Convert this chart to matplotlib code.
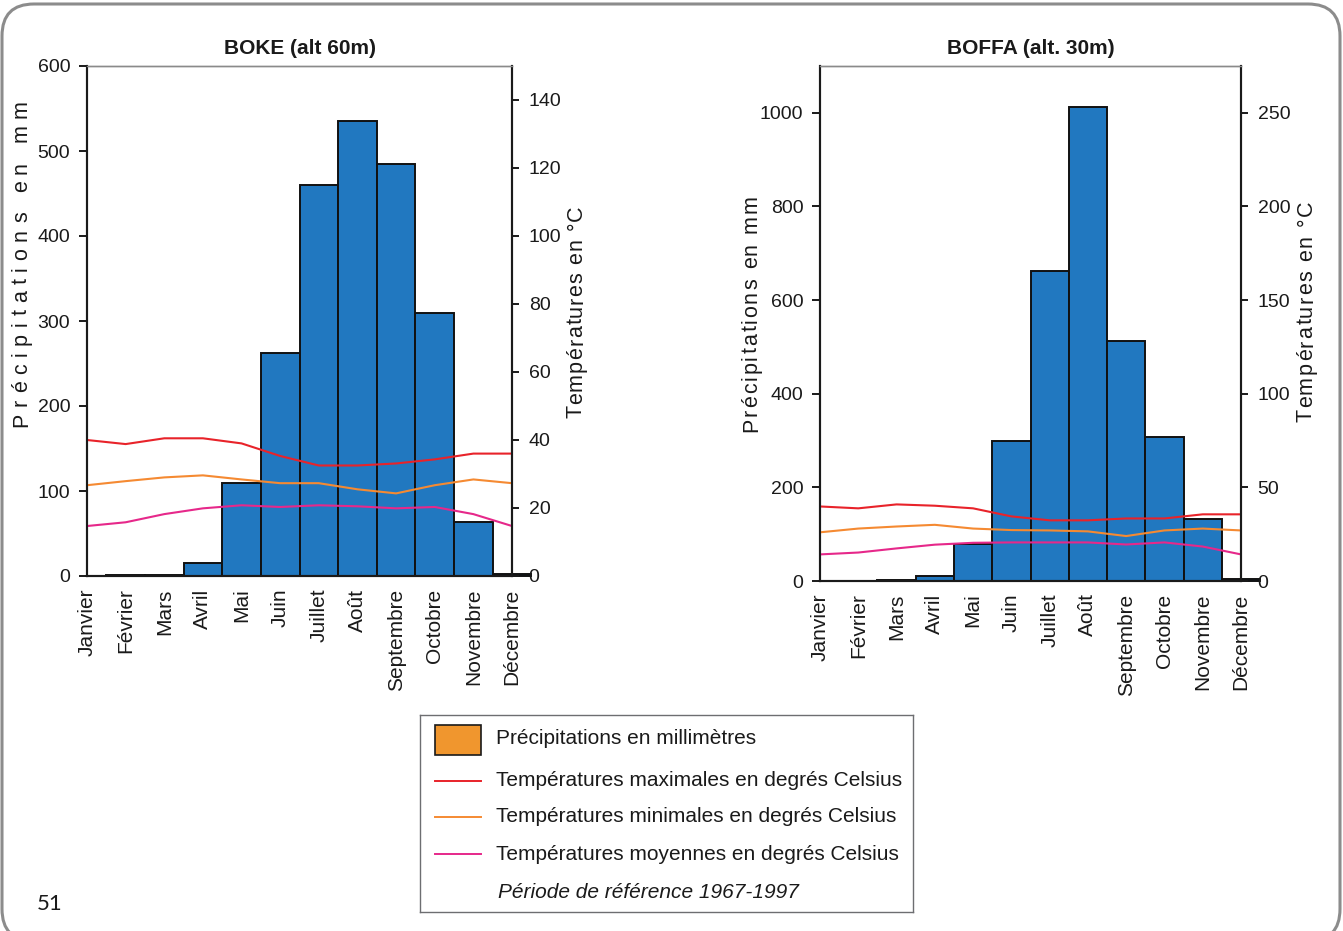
import numpy as np
import matplotlib
matplotlib.use("Agg")
import matplotlib.pyplot as plt
from matplotlib.patches import Rectangle, FancyBboxPatch
from matplotlib.lines import Line2D
from matplotlib.font_manager import FontProperties
from matplotlib.textpath import TextToPath
from matplotlib.transforms import IdentityTransform

plt.rcParams['font.family'] = ['Liberation Sans', 'DejaVu Sans']

W, H, DPI = 1343, 931, 100

months = ['Janvier', 'Février', 'Mars', 'Avril', 'Mai', 'Juin', 'Juillet',
          'Août', 'Septembre', 'Octobre', 'Novembre', 'Décembre']

# BOKE
boke_precip = [0, 1, 1, 15, 110, 262, 460, 535, 485, 310, 63, 2]
boke_tmax = [40, 38.8, 40.5, 40.5, 39, 35.3, 32.5, 32.5, 33.1, 34.3, 36, 36]
boke_tmin = [26.7, 27.9, 29, 29.6, 28.4, 27.3, 27.3, 25.5, 24.3, 26.7, 28.4, 27.3]
boke_tmoy = [14.7, 15.8, 18.2, 19.9, 20.8, 20.3, 20.8, 20.5, 19.9, 20.3, 18.2, 14.7]

# BOFFA
boffa_precip = [0, 0, 2, 10, 78, 300, 662, 1013, 512, 307, 132, 4]
boffa_tmax = [39.8, 38.8, 40.9, 40.2, 38.8, 34.5, 32.4, 32.4, 33.4, 33.4, 35.6, 35.6]
boffa_tmin = [26, 28, 29.1, 30, 28, 27.2, 27, 26.5, 24, 27, 28, 27]
boffa_tmoy = [14.2, 15.2, 17.4, 19.4, 20.4, 20.6, 20.6, 20.6, 19.5, 20.6, 18.4, 14.2]

bar_col = '#2178c0'
c_max = '#e8232a'
c_min = '#f58a32'
c_moy = '#e6288a'
c_leg = '#f0962e'
txt = '#1a1a1a'

fig = plt.figure(figsize=(W / DPI, H / DPI), dpi=DPI)

ttp = TextToPath()


def spaced_vlabel(x, y_bot, y_top, s, size=15.5):
    # vertical text with letter spacing, coordinates in image pixels (top origin)
    fp = FontProperties(family='Liberation Sans', size=size)
    base = ttp.get_text_width_height_descent('xx', fp, ismath=False)[0]
    ws = [(ttp.get_text_width_height_descent('x' + c + 'x', fp, ismath=False)[0] - base) * DPI / 72
          for c in s]
    gap = ((y_bot - y_top) - sum(ws)) / (len(s) - 1)
    pos = H - y_bot
    for c, w in zip(s, ws):
        fig.text(x, pos, c, rotation=90, rotation_mode='anchor', ha='left', va='baseline',
                 transform=IdentityTransform(), fontproperties=fp, color=txt)
        pos += w + gap


def draw_chart(rect, title, precip, tmax, tmin, tmoy, ylim, yticks, tlim, tticks):
    x0, y0, x1, y1 = rect
    ax = fig.add_axes([x0 / W, 1 - y1 / H, (x1 - x0) / W, (y1 - y0) / H])
    x = np.arange(len(months))
    bars = ax.bar(x, precip, width=1, color=bar_col, edgecolor='#111111', linewidth=1.4)
    bars.patches[-1].set_clip_on(False)
    ax.set_xlim(0, len(months) - 1)
    ax.set_ylim(*ylim)
    ax.set_yticks(yticks)
    ax.set_xticks(x)
    ax.set_xticklabels(months, rotation=90, fontsize=15, color=txt)
    ax.tick_params(axis='x', length=0, pad=9)
    ax.tick_params(axis='y', direction='out', length=6, width=1.4, labelsize=14, pad=6,
                   colors=txt)
    ax.set_title(title, fontsize=15, fontweight='bold', pad=9, color=txt)

    ax2 = ax.twinx()
    ax2.plot(x, tmax, color=c_max, lw=1.5)
    ax2.plot(x, tmin, color=c_min, lw=1.5)
    ax2.plot(x, tmoy, color=c_moy, lw=1.5)
    ax2.set_ylim(*tlim)
    ax2.set_yticks(tticks)
    ax2.tick_params(axis='y', direction='out', length=5, width=1.4, labelsize=14, pad=7,
                    colors=txt)
    for a in (ax, ax2):
        a.spines['top'].set_color('#8a8a8a')
        a.spines['top'].set_linewidth(1.0)
        for s in ('left', 'right', 'bottom'):
            a.spines[s].set_color(txt)
            a.spines[s].set_linewidth(1.5)
    return ax, ax2


draw_chart((87, 66, 512, 576), 'BOKE (alt 60m)', boke_precip, boke_tmax, boke_tmin, boke_tmoy,
           (0, 600), range(0, 601, 100), (0, 150), range(0, 141, 20))
draw_chart((820, 66, 1241, 581), 'BOFFA (alt. 30m)', boffa_precip, boffa_tmax, boffa_tmin, boffa_tmoy,
           (0, 1100), range(0, 1001, 200), (0, 275), range(0, 251, 50))

spaced_vlabel(27, 427, 100, 'Précipitations en mm')
spaced_vlabel(582, 418, 205, 'Températures en °C')
spaced_vlabel(757, 432, 195, 'Précipitations en mm')
spaced_vlabel(1312, 422, 200, 'Températures en °C')

# legend box
lx0, ly0, lx1, ly1 = 420, 715, 913, 912
lax = fig.add_axes([lx0 / W, 1 - ly1 / H, (lx1 - lx0) / W, (ly1 - ly0) / H])
lax.set_xlim(0, lx1 - lx0)
lax.set_ylim(ly1 - ly0, 0)
lax.set_xticks([])
lax.set_yticks([])
for s in lax.spines.values():
    s.set_color('#6d6e71')
    s.set_linewidth(1.0)
lax.add_patch(Rectangle((15, 10), 46, 30, facecolor=c_leg, edgecolor=txt, lw=1.2))
leg_items = [(c_max, 'Températures maximales en degrés Celsius', 66),
             (c_min, 'Températures minimales en degrés Celsius', 102),
             (c_moy, 'Températures moyennes en degrés Celsius', 139)]
lax.text(76, 24, 'Précipitations en millimètres', fontsize=15, va='center', color=txt)
for col, lab, yy in leg_items:
    lax.add_line(Line2D([15, 61], [yy, yy], color=col, lw=1.4))
    lax.text(76, yy, lab, fontsize=15, va='center', color=txt)
lax.text(78, 178, 'Période de référence 1967-1997', fontsize=15, va='center',
         style='italic', color=txt)

# page number and frame
fig.text(37 / W, 1 - 904 / H, '51', fontsize=16, family=['Lato', 'DejaVu Sans'],
         va='center', ha='left', color=txt)
frame = FancyBboxPatch((2, -10), W - 5, H - 4 + 10, boxstyle='round,pad=0,rounding_size=32',
                       transform=IdentityTransform(), facecolor='none', edgecolor='#8c8c8c',
                       lw=2.2, clip_on=False)
fig.patches.append(frame)

fig.savefig('out.png', dpi=DPI)
